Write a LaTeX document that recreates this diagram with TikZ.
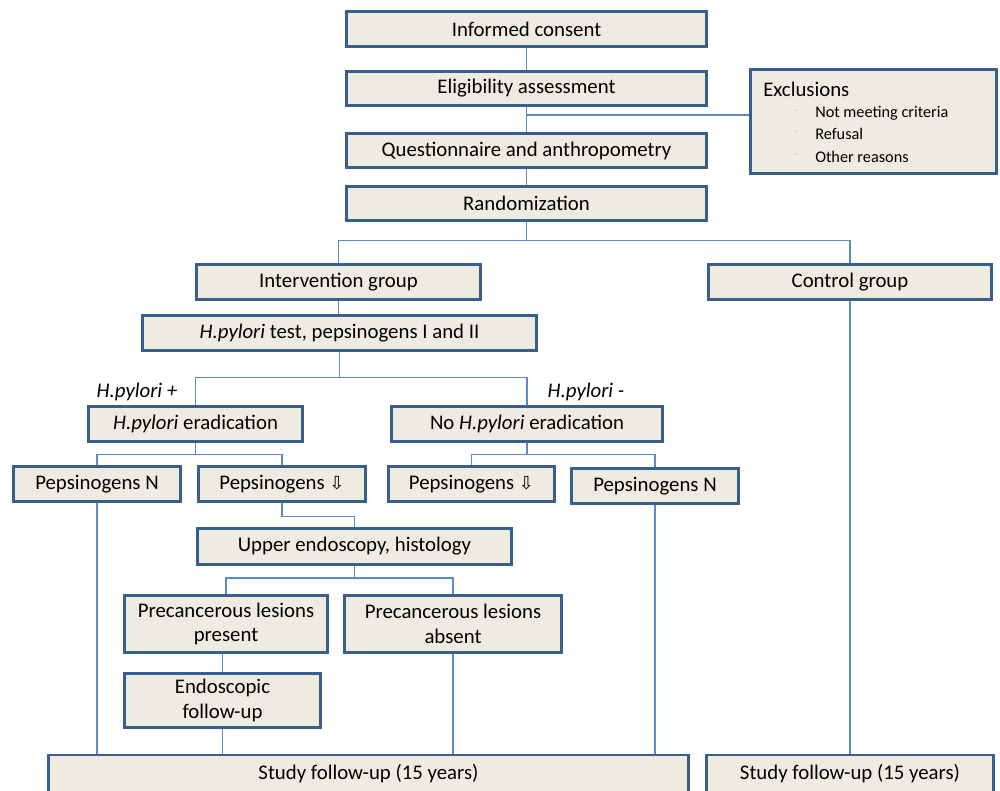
\documentclass[tikz,border=0pt]{standalone}
\usepackage{fontspec}
\setmainfont{Carlito}
\newfontfamily\symfont{DejaVu Sans}
\definecolor{boxfill}{HTML}{EEECE1}
\definecolor{boxline}{HTML}{3B5F8C}
\definecolor{conline}{HTML}{5B8AC6}
\definecolor{dashcol}{HTML}{DCD8CC}
\newcommand{\down}{{\symfont\fontsize{13.5}{15}\selectfont ⇩}}
\begin{document}
\begin{tikzpicture}[x=0.75pt,y=-0.75pt,
  box/.style={draw=boxline, line width=2.2pt, fill=boxfill, inner sep=0pt, align=center,
    font=\fontsize{15.6}{18.3}\selectfont},
  conn/.style={draw=conline, line width=0.8pt},
  lbl/.style={inner sep=0pt, font=\fontsize{15.6}{18.3}\selectfont},
  small/.style={inner sep=0pt, anchor=west, font=\fontsize{12.2}{14}\selectfont}]
\clip (0,0) rectangle (1000,791);
\useasboundingbox (0,0) rectangle (1000,791);
\fill[white] (0,0) rectangle (1000,791);

% boxes
\node[box, minimum width=360*0.75pt, minimum height=35*0.75pt] (ic) at (526.5,29) {Informed consent};
\node[box, minimum width=360*0.75pt, minimum height=34*0.75pt] (elig) at (526.5,88.5) {Eligibility assessment};
\node[box, minimum width=360*0.75pt, minimum height=34*0.75pt] (quest) at (526.5,150.5) {Questionnaire and anthropometry};
\node[box, minimum width=360*0.75pt, minimum height=34*0.75pt] (rand) at (526.5,203.5) {Randomization};
\node[box, minimum width=246*0.75pt, minimum height=104*0.75pt] (excl) at (873.5,121.5) {};
\node[lbl, anchor=west] (exh) at (763,89) {Exclusions};
\node[small, text=dashcol] (d1) at (793,113) {-};
\node[small, text=dashcol] (d2) at (793,134) {-};
\node[small, text=dashcol] (d3) at (793,157) {-};
\node[small] (e1) at (815,113) {Not meeting criteria};
\node[small] (e2) at (815,134) {Refusal};
\node[small] (e3) at (815,157) {Other reasons};

\node[box, minimum width=284*0.75pt, minimum height=35*0.75pt] (interv) at (338.5,282) {Intervention group};
\node[box, minimum width=283*0.75pt, minimum height=35*0.75pt] (ctrl) at (850,282) {Control group};
\node[box, minimum width=394*0.75pt, minimum height=35*0.75pt] (hptest) at (339.5,333) {\textit{H.pylori} test, pepsinogens I and II};

\node[lbl] (hpplus) at (137,392) {\textit{H.pylori +}};
\node[lbl] (hpminus) at (586,392) {\textit{H.pylori -}};

\node[box, minimum width=214*0.75pt, minimum height=35*0.75pt] (erad) at (195.5,424) {\textit{H.pylori} eradication};
\node[box, minimum width=271*0.75pt, minimum height=35*0.75pt] (noerad) at (527,424) {No \textit{H.pylori} eradication};

\node[box, minimum width=167*0.75pt, minimum height=35*0.75pt] (pn1) at (97,484) {Pepsinogens N};
\node[box, minimum width=167*0.75pt, minimum height=35*0.75pt] (pd1) at (282,484) {Pepsinogens \down};
\node[box, minimum width=166*0.75pt, minimum height=35*0.75pt] (pd2) at (471.5,484) {Pepsinogens \down};
\node[box, minimum width=167*0.75pt, minimum height=35*0.75pt] (pn2) at (655,486) {Pepsinogens N};

\node[box, minimum width=314*0.75pt, minimum height=36*0.75pt] (endo) at (354.5,546.5) {Upper endoscopy, histology};
\node[box, minimum width=203*0.75pt, minimum height=57*0.75pt] (pres) at (226,624) {Precancerous lesions\\present};
\node[box, minimum width=217*0.75pt, minimum height=57*0.75pt] (abs) at (453,624) {Precancerous lesions\\absent};
\node[box, minimum width=196*0.75pt, minimum height=54*0.75pt] (efu) at (222.5,700.5) {Endoscopic\\follow-up};

\node[box, minimum width=640*0.75pt, minimum height=38*0.75pt] (sf1) at (368.5,774) {Study follow-up (15 years)};
\node[box, minimum width=287*0.75pt, minimum height=38*0.75pt] (sf2) at (850,774) {Study follow-up (15 years)};

% connectors
\draw[conn] (ic.south) -- (elig.north);
\draw[conn] (elig.south) -- (quest.north);
\coordinate (exj) at (526.5,115);
\draw[conn] (exj) -- (exj -| excl.west);
\draw[conn] (quest.south) -- (rand.north);
\draw[conn] (rand.south) -- ++(0,19) -| (interv.north);
\draw[conn] (rand.south) -- ++(0,19) -| (ctrl.north);
\draw[conn] (interv.south) -- (interv.south |- hptest.north);
\draw[conn] (hptest.south) -- ++(0,26) -| (erad.north);
\draw[conn] (hptest.south) -- ++(0,26) -| (noerad.north);
\draw[conn] (erad.south) -- ++(0,12) -| (pn1.north);
\draw[conn] (erad.south) -- ++(0,12) -| (pd1.north);
\draw[conn] (noerad.south) -- ++(0,12) -| (pd2.north);
\draw[conn] (noerad.south) -- ++(0,12) -| (pn2.north);
\draw[conn] (pd1.south) -- ++(0,14) -| (endo.north);
\draw[conn] (endo.south) -- ++(0,12) -| (pres.north);
\draw[conn] (endo.south) -- ++(0,12) -| (abs.north);
\draw[conn] (efu.north |- pres.south) -- (efu.north);
\draw[conn] (efu.south) -- (efu.south |- sf1.north);
\draw[conn] (abs.south) -- (abs.south |- sf1.north);
\draw[conn] (pn1.south) -- (pn1.south |- sf1.north);
\draw[conn] (pn2.south) -- (pn2.south |- sf1.north);
\draw[conn] (ctrl.south) -- (ctrl.south |- sf2.north);
\end{tikzpicture}
\end{document}
